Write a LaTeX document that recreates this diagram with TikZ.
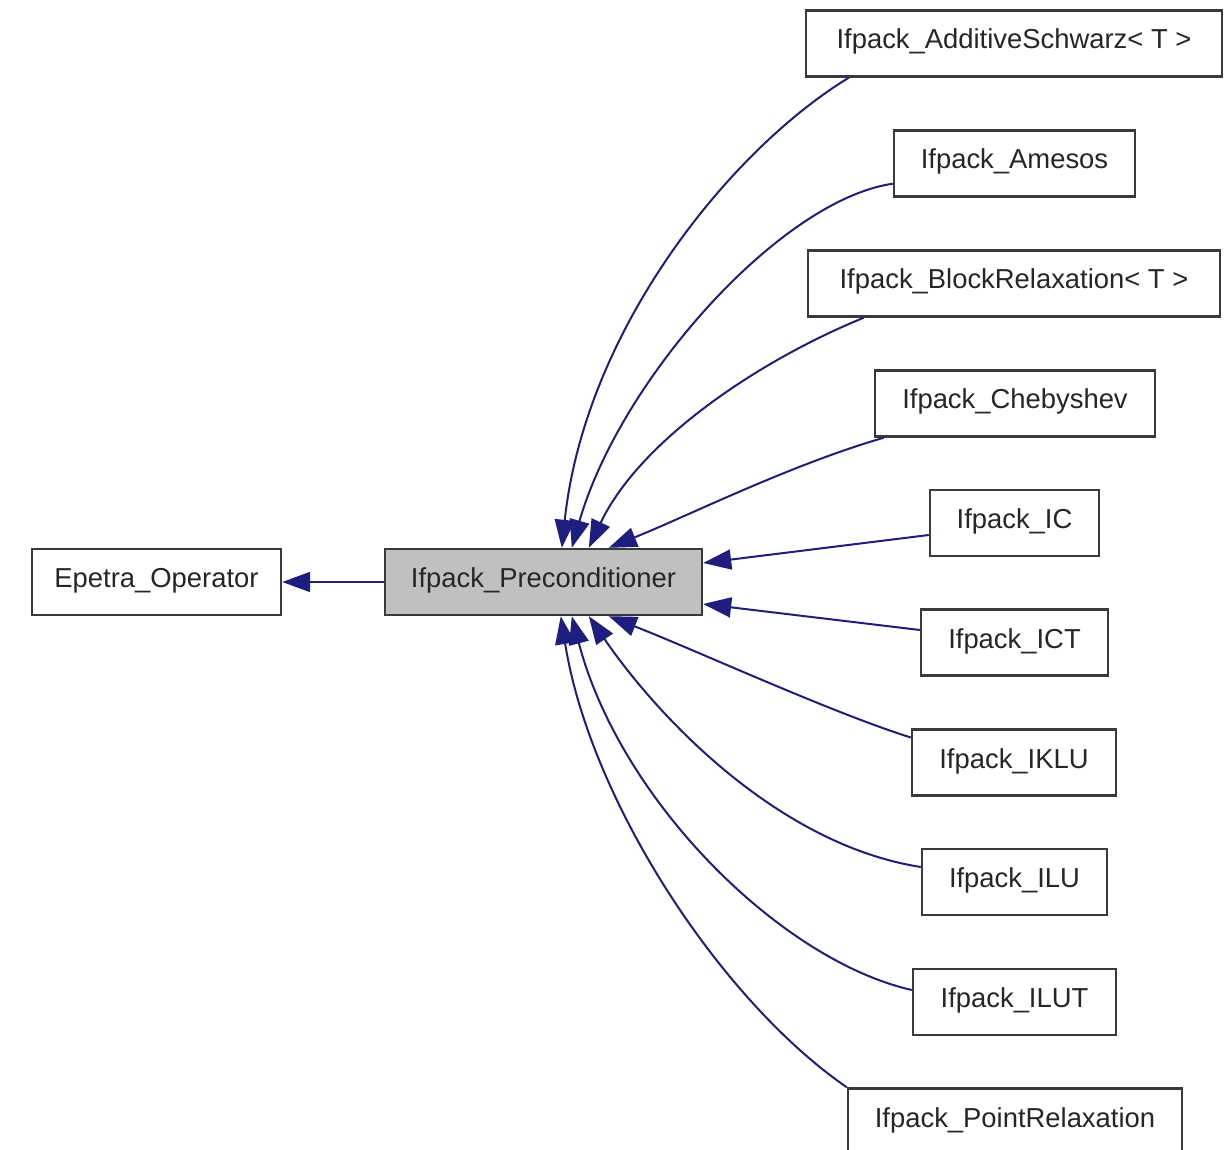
\documentclass[tikz,border=0pt]{standalone}
\usepackage{fontspec}
\setmainfont{Liberation Sans}
\usetikzlibrary{arrows.meta,calc}
\definecolor{edgec}{HTML}{1E1E80}
\definecolor{boxc}{HTML}{3A3A3A}
\definecolor{txtc}{HTML}{262626}
\definecolor{grayfill}{HTML}{C0C0C0}
\begin{document}
\begin{tikzpicture}[x=0.5pt,y=-0.5pt,
  cls/.style={draw=boxc,line width=1.2pt,fill=white,minimum height=33pt,inner sep=0pt,text height=10pt,text depth=4.5pt,text=txtc,font=\fontsize{13.7}{16}\selectfont},
  inh/.style={draw=edgec,line width=1pt,-{Triangle[length=14pt,width=10pt]}},
]
\clip (0,0) rectangle (1228,1150);
\fill[white] (0,0) rectangle (1228,1150);
% nodes
\node[cls,minimum width=124.5pt] (epe) at (156.5,582) {Epetra\_Operator};
\node[cls,minimum width=158.5pt,fill=grayfill] (pre) at (543.5,582) {Ifpack\_Preconditioner};
\node[cls,minimum width=208pt] (asch) at (1014,43.5) {Ifpack\_AdditiveSchwarz< T >};
\node[cls,minimum width=120.5pt] (ame) at (1014.5,163.5) {Ifpack\_Amesos};
\node[cls,minimum width=206pt] (blk) at (1014,283.5) {Ifpack\_BlockRelaxation< T >};
\node[cls,minimum width=140pt] (cheb) at (1015,403.5) {Ifpack\_Chebyshev};
\node[cls,minimum width=84.5pt] (ic) at (1014.5,523) {Ifpack\_IC};
\node[cls,minimum width=93.5pt] (ict) at (1014.5,642.5) {Ifpack\_ICT};
\node[cls,minimum width=102pt] (iklu) at (1014,762.5) {Ifpack\_IKLU};
\node[cls,minimum width=92.5pt] (ilu) at (1014.5,882) {Ifpack\_ILU};
\node[cls,minimum width=101.5pt] (ilut) at (1014.5,1002) {Ifpack\_ILUT};
\node[cls,minimum width=167pt] (pt) at (1015,1121.5) {Ifpack\_PointRelaxation};
% edges
\draw[inh] (pre) -- (epe);
\draw[inh] ($(asch.south west)+(44,0)$) .. controls (730,150) and (585,330) .. ($(pre.north west)+(178,0)$);
\draw[inh] ($(ame.south west)+(0,-14)$) .. controls (780,200) and (620,380) .. ($(pre.north west)+(188,0)$);
\draw[inh] ($(blk.south west)+(57,0)$) .. controls (760,360) and (640,440) .. ($(pre.north west)+(205,0)$);
\draw[inh] ($(cheb.south west)+(10,0)$) .. controls (790,465) and (690,515) .. ($(pre.north west)+(225,0)$);
\draw[inh] ($(ic.west)+(0,12)$) -- ($(pre.east)+(0,-19)$);
\draw[inh] ($(ict.west)+(0,-12.5)$) -- ($(pre.east)+(0,22)$);
\draw[inh] ($(iklu.west)+(0,-25)$) .. controls (830,712) and (700,652) .. ($(pre.south west)+(225,0)$);
\draw[inh] ($(ilu.west)+(0,-15)$) .. controls (780,845) and (660,720) .. ($(pre.south west)+(205,0)$);
\draw[inh] ($(ilut.west)+(0,-12)$) .. controls (780,960) and (620,800) .. ($(pre.south west)+(188,0)$);
\draw[inh] (pt.north west) .. controls (720,1000) and (590,800) .. ($(pre.south west)+(177,0)$);
\end{tikzpicture}
\end{document}
